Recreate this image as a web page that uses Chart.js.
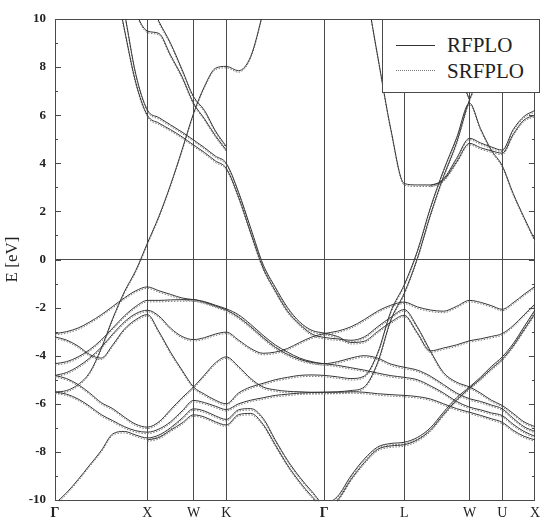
<!DOCTYPE html>
<html>
<head>
<meta charset="utf-8">
<script src="https://cdn.jsdelivr.net/npm/chart.js@4.4.1/dist/chart.umd.min.js"></script>
<style>
  html, body { margin: 0; padding: 0; background: #fff; }
  #wrap { position: relative; width: 545px; height: 526px; }
  #legend {
    position: absolute; left: 382px; top: 19px; width: 158px; height: 74px;
    box-sizing: border-box; border: 1px solid #4a4a4a; background: #fff;
    font-family: 'Liberation Serif', 'Times New Roman', serif; color: #222;
  }
  #legend .txt { position: absolute; left: 64px; font-size: 21px; line-height: 21px; }
  #legend .ln { position: absolute; left: 13px; width: 39px; height: 0; }
</style>
</head>
<body>
<div id="wrap">
  <canvas id="bands" width="545" height="526"></canvas>
  <div id="legend">
    <div class="ln" style="top:25px; border-top:1px solid #333;"></div>
    <div class="txt" style="top:15px;">RFPLO</div>
    <div class="ln" style="top:50px; border-top:1px dotted #777;"></div>
    <div class="txt" style="top:41px;">SRFPLO</div>
  </div>
</div>
<script>
// high-symmetry path of the fcc zone, distances in units of 2pi/a
const symLabels = ['Γ', 'X', 'W', 'K', 'Γ', 'L', 'W', 'U', 'X'];
const kSym = [0, 1, 1.5, 1.854, 2.914, 3.780, 4.487, 4.841, 5.195];

// sampling points along the path (41 points)
const kPath = [
  0, 0.125, 0.25, 0.375, 0.5, 0.625, 0.75, 0.875, 1,
  1.125, 1.25, 1.375, 1.5,
  1.618, 1.736, 1.854,
  1.987, 2.119, 2.252, 2.384, 2.517, 2.649, 2.782, 2.914,
  3.058, 3.203, 3.347, 3.491, 3.636, 3.780,
  3.922, 4.063, 4.205, 4.346, 4.487,
  4.605, 4.723, 4.841, 4.959, 5.077, 5.195
];

// band energies (eV), one value per kPath point
const bandA = [
  -3.08, -3.0, -2.85, -2.6, -2.3, -1.95, -1.6, -1.3, -1.14,
  -1.3, -1.45, -1.6, -1.67,
  -1.75, -1.9, -2.05,
  -2.3, -2.7, -3.15, -3.55, -3.85, -4.1, -4.25, -4.33,
  -4.25, -4.1, -4.0, -4.1, -4.35, -4.48,
  -4.6, -4.85, -5.2, -5.55, -5.79,
  -5.9, -6.05, -6.21, -6.6, -6.95, -7.15
];
const bandB = [
  -3.22, -3.35, -3.6, -3.95, -4.1, -3.55, -2.9, -2.5, -2.29,
  -3.0, -3.85, -4.6, -5.3,
  -5.6, -5.85, -6.0,
  -5.55, -5.3, -5.15, -5.0, -4.9, -4.82, -4.8, -4.82,
  -4.88, -4.95, -4.85, -3.9, -2.15, -1.05,
  0.35, 2.15, 3.7, 5.05, 6.5,
  5.45, 4.55, 3.9, 2.75, 1.75, 0.8
];
const bandC = [
  -4.33, -4.25, -4.05, -3.75, -3.35, -2.85, -2.35, -1.95, -1.70,
  -1.70, -1.68, -1.67, -1.67,
  -1.78, -1.93, -2.1,
  -2.4, -2.8, -3.25, -3.65, -3.95, -4.15, -4.28, -4.33,
  -4.4, -4.5, -4.6, -4.72, -4.83, -4.9,
  -5.0, -5.25, -5.55, -5.9, -6.14,
  -6.25, -6.38, -6.49, -6.85, -7.15, -7.35
];
const bandD = [
  -4.82, -4.7, -4.45, -4.1, -3.65, -3.1, -2.6, -2.25, -2.11,
  -2.35, -2.85, -3.2, -3.33,
  -3.25, -3.1, -3.02,
  -3.35, -3.7, -3.9, -3.85, -3.7, -3.45, -3.22, -3.08,
  -2.98, -2.8, -2.5, -2.15, -1.9, -1.77,
  -1.97, -2.1, -2.15, -1.95, -1.7,
  -1.78, -1.92, -2.07, -1.8, -1.45, -1.12
];
const bandE = [
  -5.51, -5.45, -5.2, -4.7, -3.7, -2.45, -1.35, -0.45, 0.68,
  1.8, 3.1, 4.56, 6.08,
  7.2, 7.95, 8.03,
  7.85, 8.45, 10.3, 12.5, null, null, null, null,
  null, null, null, null, null, null,
  null, null, null, null, null,
  null, null, null, null, null, null
];
const bandF = [
  -4.82, -4.95, -5.2, -5.55, -5.95, -6.2, -6.55, -6.85, -6.97,
  -6.75, -6.25, -5.75, -5.3,
  -4.8, -4.3, -4.05,
  -4.45, -4.95, -5.3, -5.42, -5.48, -5.5, -5.52, -5.52,
  -5.52, -5.5, -5.52, -5.58, -5.62, -5.65,
  -5.7, -5.8, -6.0, -6.2, -6.35,
  -6.48, -6.62, -6.77, -7.1, -7.35, -7.5
];
const bandG = [
  -5.51, -5.6, -5.8, -6.1, -6.45, -6.7, -6.95, -7.12, -7.18,
  -7.05, -6.75, -6.3, -5.86,
  -5.95, -6.1, -6.24,
  -6.0, -5.85, -5.75, -5.65, -5.6, -5.55, -5.53, -5.52,
  -5.5, -5.45, -5.3, -4.3, -2.5, -1.4,
  0.05, 1.85, 3.45, 4.85, 6.65,
  7.6, 8.4, 9.0, 9.3, 9.45, 9.5
];
const bandH = [
  -10.15, -9.7, -9.15, -8.55, -7.95, -7.25, -7.15, -7.3, -7.42,
  -7.3, -7.0, -6.6, -6.21,
  -6.3, -6.5, -6.65,
  -6.25, -6.2, -6.6, -7.5, -8.35, -9.05, -9.65, -10.15,
  -9.85, -9.0, -8.3, -7.8, -7.65, -7.6,
  -7.4, -7.0, -6.35, -5.75, -5.3,
  -4.9, -4.45, -4.05, -3.5, -2.8, -2.1
];
const bandM = [
  null, null, null, null, null, null, null, null, -7.5,
  -7.4, -7.1, -6.8, -6.46,
  -6.55, -6.75, -6.88,
  -6.45, -6.4, -6.85, -7.7, -8.55, -9.25, -9.85, -10.3,
  -10.0, -9.15, -8.45, -7.9, -7.75, -7.7,
  -7.5, -7.1, -6.45, -5.85, -5.35,
  -4.97, -4.55, -4.15, -3.6, -2.92, -2.25
];
const bandU1 = [
  null, null, null, null, null, 12.0, 9.6, 7.35, 6.0,
  5.67, 5.4, 5.1, 4.76,
  4.45, 4.1, 3.79,
  2.6, 1.1, -0.35, -1.3, -2.15, -2.7, -3.1, -3.24,
  -3.3, -3.36, -3.22, -2.8, -2.4, -2.08,
  -2.8, -3.8, -4.7, -5.1, -5.3,
  -5.55, -5.85, -6.07, -6.4, -6.75, -6.95
];
const bandU2 = [
  null, null, null, null, null, 12.5, 10.3, 7.7, 6.22,
  5.9, 5.6, 5.3, 4.97,
  4.65, 4.3, 4.0,
  2.8, 1.3, -0.2, -1.15, -2.0, -2.6, -2.95, -3.06,
  -3.2, -3.45, -3.4, -3.0, -2.6, -2.32,
  -3.05, -3.8, -3.68, -3.55, -3.38,
  -3.3, -3.2, -3.08, -2.75, -2.3, -1.85
];
const bandU3 = [
  null, null, null, null, null, null, 12.0, 10.3, 9.5,
  9.4, 8.5, 7.6, 6.5,
  5.85, 5.15, 4.55,
  null, null, null, null, null, null, null, null,
  null, null, null, null, null, null,
  null, null, null, null, null,
  null, null, null, null, null, null
];
const bandU4 = [
  null, null, null, null, null, null, null, null, 11.0,
  9.9, 9.0, 7.9, 6.77,
  6.2, 5.35, 4.7,
  null, null, null, null, null, null, null, null,
  null, null, null, null, null, null,
  null, null, null, null, null,
  null, null, null, null, null, null
];
const bandV1 = [
  null, null, null, null, null, null, null, null, null,
  null, null, null, null,
  null, null, null,
  null, null, null, null, null, null, null, null,
  null, 14.0, 11.6, 8.5, 5.4, 3.16,
  3.1, 3.1, 3.35, 4.2, 5.04,
  4.85, 4.68, 4.55, 5.4, 5.95, 6.2
];
const bandV2 = [
  null, null, null, null, null, null, null, null, null,
  null, null, null, null,
  null, null, null,
  null, null, null, null, null, null, null, null,
  null, null, null, null, null, null,
  null, 3.08, 3.3, 4.05, 4.83,
  4.65, 4.52, 4.42, 5.2, 5.8, 6.0
];
const bandT = [
  null, null, null, null, null, null, null, null, null,
  null, null, null, null,
  null, null, null,
  null, null, null, null, null, null, null, null,
  null, null, null, null, null, null,
  null, 11.5, 9.5, 8.0, 6.65,
  null, null, null, null, null, null
];

const bands = [bandA, bandB, bandC, bandD, bandE, bandF, bandG, bandH, bandM,
               bandU1, bandU2, bandU3, bandU4, bandV1, bandV2, bandT];

const serif = "'Liberation Serif', 'Times New Roman', serif";

function toPoints(band) {
    return kPath.map((k, i) => ({ x: k, y: band[i] }));
}

const datasets = [];
bands.forEach(band => {
    datasets.push({
        label: 'RFPLO', family: 'RFPLO', data: toPoints(band),
        borderColor: '#363636', borderWidth: 1
    });
});
bands.forEach(band => {
    datasets.push({
        label: 'SRFPLO', family: 'SRFPLO', data: toPoints(band),
        borderColor: '#7a7a7a', borderWidth: 1, borderDash: [1.5, 1.5]
    });
});

// draws the scalar-relativistic curves a hair lower so the two sets stay visible
const srOffset = {
    id: 'srOffset',
    beforeDatasetDraw(chart, args) {
        if (chart.data.datasets[args.index].family === 'SRFPLO') {
            chart.ctx.save();
            chart.ctx.translate(0, 1.5);
        }
    },
    afterDatasetDraw(chart, args) {
        if (chart.data.datasets[args.index].family === 'SRFPLO') chart.ctx.restore();
    }
};

// small inward tick marks on the left and right frame
const innerTicks = {
    id: 'innerTicks',
    afterDraw(chart) {
        const { ctx, chartArea: a, scales: { y } } = chart;
        ctx.save();
        ctx.strokeStyle = '#4a4a4a';
        ctx.lineWidth = 1;
        for (let v = -10; v <= 10; v++) {
            const py = Math.round(y.getPixelForValue(v)) + 0.5;
            const len = v % 2 === 0 ? 6 : 3;
            ctx.beginPath();
            ctx.moveTo(a.left, py); ctx.lineTo(a.left + len, py);
            ctx.moveTo(a.right - len, py); ctx.lineTo(a.right, py);
            ctx.stroke();
        }
        ctx.restore();
    }
};

new Chart(document.getElementById('bands').getContext('2d'), {
    type: 'line',
    data: { datasets: datasets },
    plugins: [srOffset, innerTicks],
    options: {
        responsive: false,
        animation: false,
        devicePixelRatio: 1,
        layout: { padding: { top: 19, right: 6, left: 0, bottom: 0 } },
        plugins: { legend: { display: false }, tooltip: { enabled: false } },
        elements: {
            point: { radius: 0 },
            line: { cubicInterpolationMode: 'monotone' }
        },
        scales: {
            x: {
                type: 'linear',
                min: kSym[0],
                max: kSym[kSym.length - 1],
                afterBuildTicks: s => { s.ticks = kSym.map(v => ({ value: v })); },
                afterFit: s => { s.height = 26; },
                grid: { color: '#4a4a4a', lineWidth: 1, drawTicks: false },
                border: { color: '#4a4a4a' },
                ticks: {
                    autoSkip: false,
                    maxRotation: 0,
                    padding: 5,
                    color: '#222',
                    callback: (v, i) => symLabels[i],
                    font: ctx => ({
                        family: serif,
                        size: 14,
                        weight: symLabels[ctx.index] === 'Γ' ? 'bold' : 'normal'
                    })
                }
            },
            y: {
                min: -10,
                max: 10,
                afterFit: s => { s.width = 55; },
                grid: {
                    drawTicks: false,
                    color: ctx => (ctx.tick && (ctx.tick.value === 0 || ctx.tick.value === 10)) ? '#4a4a4a' : 'rgba(0,0,0,0)'
                },
                border: { color: '#4a4a4a' },
                ticks: {
                    stepSize: 2,
                    padding: 9,
                    color: '#222',
                    font: { family: serif, size: 13, weight: 'bold' }
                },
                title: {
                    display: true,
                    text: 'E [eV]',
                    color: '#222',
                    font: { family: serif, size: 17 },
                    padding: { top: 2, bottom: 0 }
                }
            }
        }
    }
});
</script>
</body>
</html>
